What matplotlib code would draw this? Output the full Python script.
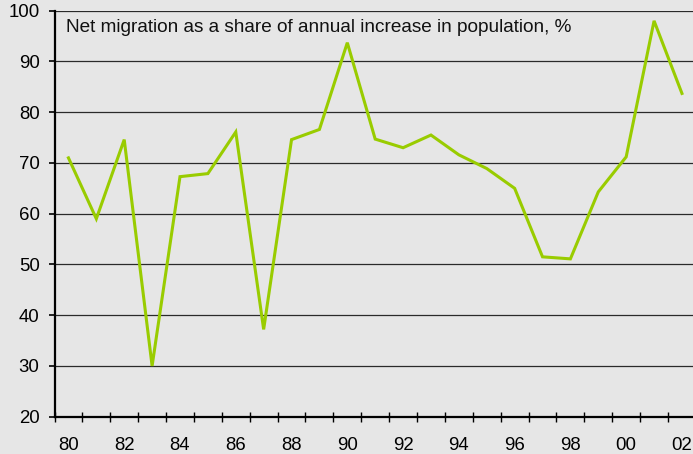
import matplotlib
matplotlib.use("Agg")
import matplotlib.pyplot as plt
from matplotlib.ticker import FixedLocator

years = list(range(1980, 2003))
values = [71.0, 59.0, 74.6, 30.0, 67.3, 67.9, 76.1, 37.2, 74.6, 76.6, 93.7,
          74.7, 73.0, 75.5, 71.6, 68.9, 65.0, 51.5, 51.1, 64.3, 71.2, 98.0, 83.7]
ytick_values = [20, 30, 40, 50, 60, 70, 80, 90, 100]
xtick_years = list(range(1980, 2003, 2))
xtick_labels = ["80", "82", "84", "86", "88", "90", "92", "94", "96", "98", "00", "02"]
title_text = "Net migration as a share of annual increase in population, %"

plt.rcParams['font.family'] = ['Liberation Sans', 'DejaVu Sans']

bg = "#e6e6e6"
fig = plt.figure(figsize=(6.93, 4.54), dpi=100, facecolor=bg)
W, H = 693, 454
left, right, top, bottom = 54.5, 695.9, 10.7, 416.7
ax = fig.add_axes([left / W, (H - bottom) / H, (right - left) / W, (bottom - top) / H])
ax.set_facecolor(bg)

ax.set_xlim(1979.5, 2002.5)
ax.set_ylim(20, 100)

for v in ytick_values[1:]:
    ax.axhline(v, color="#2a2a2a", lw=0.9, zorder=1)

ax.plot(years, values, color="#99cc00", lw=2.2, zorder=3, solid_joinstyle="miter")

for s in ["top", "right"]:
    ax.spines[s].set_visible(False)
for s in ["left", "bottom"]:
    ax.spines[s].set_color("black")
    ax.spines[s].set_linewidth(1.6)

ax.set_yticks(ytick_values)
ax.set_yticklabels([str(v) for v in ytick_values])
ax.tick_params(axis="y", direction="out", length=4.2, width=1.2, pad=6.5,
               labelsize=13.4, colors="black")

ax.set_xticks(xtick_years)
ax.set_xticklabels(xtick_labels)
ax.xaxis.set_minor_locator(FixedLocator([y - 0.5 for y in years] + [2002.5]))
ax.tick_params(axis="x", which="major", length=0, pad=14.5, labelsize=13.4, colors="black")
ax.tick_params(axis="x", which="minor", direction="inout", length=6.5, width=1.0, color="black")

ax.text(65.5 / W, (H - 27.5) / H, title_text, transform=fig.transFigure,
        fontsize=13.65, va="center", ha="left", color="#111111")

fig.savefig("out.png", dpi=100, facecolor=bg)
